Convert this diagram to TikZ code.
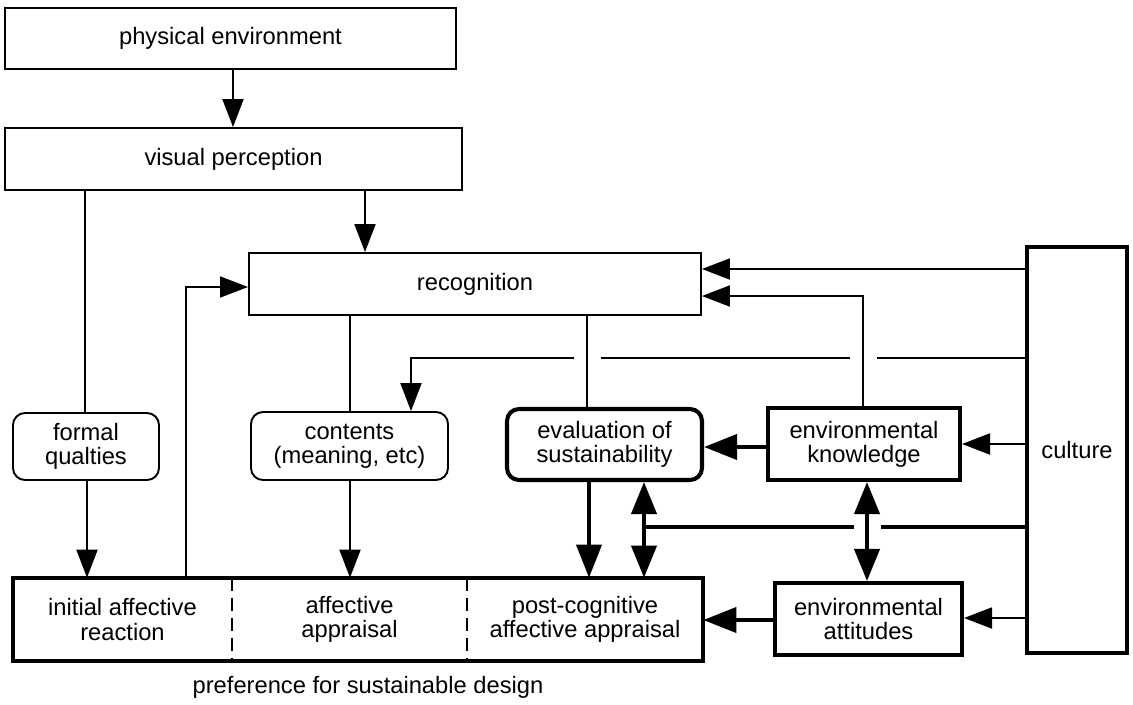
\documentclass[tikz,border=0pt]{standalone}
\usepackage{fontspec}
\setmainfont{Liberation Sans}
\usetikzlibrary{arrows.meta}

\begin{document}
\begin{tikzpicture}[x=0.02cm,y=-0.02cm,
  font=\fontsize{13.5}{13.8}\selectfont,
  thinln/.style={line width=1.1pt},
  thickln/.style={line width=2.3pt},
  box/.style 2 args={draw, thinln, rectangle, align=center, inner sep=0pt,
    minimum width=#1*0.02cm, minimum height=#2*0.02cm},
  rbox/.style 2 args={box={#1}{#2}, rounded corners=0.24cm},
  heavy/.style={thickln},
  cell/.style 2 args={rectangle, align=center, inner sep=0pt,
    minimum width=#1*0.02cm, minimum height=#2*0.02cm},
  arr/.style={thinln, -{Triangle[length=0.56cm,width=0.42cm]}},
  tarr/.style={thickln, -{Triangle[length=0.66cm,width=0.5cm]}},
  tdarr/.style={thickln, {Triangle[length=0.64cm,width=0.5cm]}-{Triangle[length=0.64cm,width=0.5cm]}},
  bridge/.style={preaction={draw=white, arrows=-, line width=0.54cm,
    shorten <=0.2cm, shorten >=0.2cm}}
]
\fill[white] (0,0) rectangle (1133,704);
\useasboundingbox (0,0) rectangle (1133,704);

% boxes
\node[box={451}{61}] (phys) at (230.5,38.5) {physical environment};
\node[box={457}{62}] (visual) at (233.5,159) {visual perception};
\node[box={452}{62}] (recog) at (475,284) {recognition};
\node[rbox={146}{67}] (formal) at (86,446.5) {formal\\qualties};
\node[rbox={197}{68}] (contents) at (349.5,446) {contents\\(meaning, etc)};
\node[rbox={195}{71}, heavy] (eval) at (604.5,444.5) {evaluation of\\sustainability};
\node[box={192}{72}, heavy] (know) at (864,444) {environmental\\knowledge};
\node[box={187}{72}, heavy] (att) at (868.5,619) {environmental\\attitudes};
\node[box={100}{406}, heavy] (culture) at (1077,450) {culture};

% preference box, split in three
\node[cell={219}{83}] (initial) at (122.5,619.5) {initial affective\\reaction};
\node[cell={235}{83}] (affect) at (349.5,619.5) {affective\\appraisal};
\node[cell={236}{83}] (post) at (585,619.5) {post-cognitive\\affective appraisal};
\draw[thickln] (initial.north west) rectangle (post.south east);
\draw[thinln, dash pattern=on 0.26cm off 0.14cm] (initial.north east) -- (initial.south east);
\draw[thinln, dash pattern=on 0.26cm off 0.14cm] (affect.north east) -- (affect.south east);
\node (caption) at (368,687) {preference for sustainable design};

% perception chain
\draw[arr] (phys.south -| 233,0) -- (visual.north -| 233,0);
\draw[arr] (visual.south -| 365,0) -- (recog.north -| 365,0);
\draw[thinln] (visual.south -| 85,0) -- (formal.north -| 85,0);
\draw[arr] (formal.south -| 87,0) -- (initial.north -| 87,0);
\draw[arr] (initial.north -| 186,0) |- (recog.west |- 0,287);
\draw[thinln] (recog.south -| 350,0) -- (contents.north -| 350,0);
\draw[arr] (contents.south -| 350,0) -- (affect.north -| 350,0);

% culture links drawn first, so crossings can bridge over them
\draw[arr] (culture.west |- 0,269) -- (recog.east |- 0,269);
\draw[arr] (culture.west |- 0,358) -| (contents.north -| 411,0);
\coordinate (tj) at (644,527);
\draw[thickln] (culture.west |- 0,527) -- (tj);
\draw[arr] (culture.west |- 0,444) -- (know.east |- 0,444);
\draw[arr] (culture.west |- 0,618) -- (att.east |- 0,618);

% crossing lines
\draw[thinln, bridge] (recog.south -| 587,0) -- (eval.north -| 587,0);
\draw[arr, bridge] (know.north -| 863,0) |- (recog.east |- 0,296);
\draw[tdarr, bridge] (know.south -| 867,0) -- (att.north -| 867,0);

% sustainability links
\draw[tarr] (know.west |- 0,447) -- (eval.east |- 0,447);
\draw[tarr] (eval.south -| 589,0) -- (post.north -| 589,0);
\draw[tdarr] (eval.south -| 644,0) -- (post.north -| 644,0);
\draw[tarr] (att.west |- 0,620) -- (post.east |- 0,620);
\end{tikzpicture}
\end{document}
